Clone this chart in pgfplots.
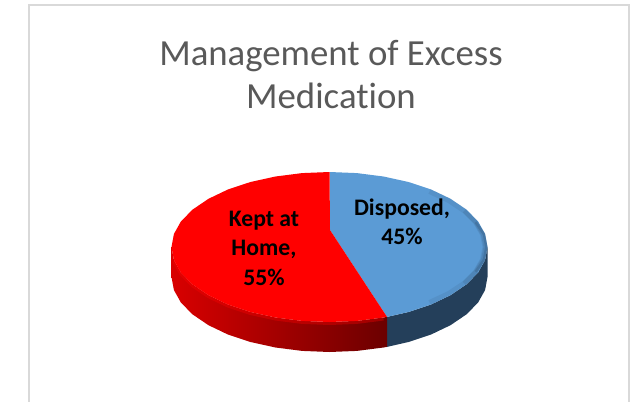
\documentclass[border=0pt]{standalone}
\usepackage{pgfplots}
\pgfplotsset{compat=1.18}
\usepackage{fontspec}
\setmainfont[Ligatures=NoCommon]{Carlito}
\definecolor{piered}{HTML}{FF0000}
\definecolor{pieblue}{HTML}{5B9BD5}
\definecolor{sideblue}{HTML}{243F5A}
\definecolor{frame}{HTML}{D9D9D9}
\definecolor{titlegray}{HTML}{595959}
\begin{document}
\begin{tikzpicture}[x=1pt,y=1pt]
\useasboundingbox (0,0) rectangle (633,402);
\begin{axis}[at={(0,0)},anchor=south west,scale only axis,width=633pt,height=402pt,
  xmin=0,xmax=633,ymin=0,ymax=402,y dir=reverse,hide axis,clip=false]
% frame
\addplot[frame,line width=2pt] coordinates {(29,402)(29,5.3)(629,5.3)(629,402)};
% side faces
\addplot[draw=none,fill=sideblue] coordinates {
(487.5,247)(485.1,260)(478,272.7)(466.3,284.5)(450.5,295.2)(431.1,304.5)(408.5,312)(387,316.9)
(387,346.9)(408.5,342)(431.1,334.5)(450.5,325.2)(466.3,314.5)(478,302.7)(485.1,290)(487.5,277)};
\addplot[draw=none,shade,left color=red!85!black,right color=red!42!black] coordinates {
(387,316.9)(383.5,317.5)(356.9,320.9)(329.5,322)(302.1,320.9)(275.5,317.5)(250.5,312)(227.9,304.5)(208.5,295.2)(192.7,284.5)(181,272.7)(173.9,260)(171.5,247)
(171.5,277)(173.9,290)(181,302.7)(192.7,314.5)(208.5,325.2)(227.9,334.5)(250.5,342)(275.5,347.5)(302.1,350.9)(329.5,352)(356.9,350.9)(383.5,347.5)(387,346.9)};
% top faces
\addplot[draw=none,fill=pieblue] coordinates {
(330,230)(329.5,172)(356.9,173.1)(383.5,176.5)(408.5,182)(431.1,189.5)(450.5,198.8)(466.3,209.5)(478,221.3)(485.1,234)(487.5,247)(485.1,260)(478,272.7)(466.3,284.5)(450.5,295.2)(431.1,304.5)(408.5,312)(387,316.9)};
\addplot[draw=none,fill=piered] coordinates {
(330,230)(387,316.9)(383.5,317.5)(356.9,320.9)(329.5,322)(302.1,320.9)(275.5,317.5)(250.5,312)(227.9,304.5)(208.5,295.2)(192.7,284.5)(181,272.7)(173.9,260)(171.5,247)(173.9,234)(181,221.3)(192.7,209.5)(208.5,198.8)(227.9,189.5)(250.5,182)(275.5,176.5)(302.1,173.1)(329.5,172)};
% rim bevel on the blue face
\addplot[sideblue,line width=5pt,opacity=.10] coordinates {(429.5,191.5)(448.6,200.4)(464.2,210.8)(475.6,222.2)(482.6,234.4)(485,247)(482.6,259.6)(475.6,271.8)(464.2,283.3)(448.6,293.6)(429.5,302.5)};
\addplot[sideblue,line width=4pt,opacity=.14] coordinates {(464.2,210.8)(475.6,222.2)(483,234.4)(485.5,247)(483,259.6)(475.6,271.8)(464.2,283.3)};
\addplot[sideblue,line width=2.5pt,opacity=.22] coordinates {(475.6,222.2)(484,234.4)(486.3,247)(484,259.6)(475.6,271.8)};
% soft light edge on top of the red side
\addplot[red,line width=3pt,opacity=.35] coordinates {(383.5,319)(356.9,322.4)(329.5,323.5)(302.1,322.4)(275.5,319)(250.5,313.5)(227.9,306)(208.5,296.7)(192.7,286)(181,274.2)(173.9,261.5)};
% text
\node[align=center,text=titlegray,font=\fontsize{36.8}{43}\selectfont] at (axis cs:331,75) {Management of Excess\\Medication};
\node[align=center,text=black,font=\fontsize{23.7}{29.5}\selectfont\bfseries] at (axis cs:264,248) {Kept at\\Home,\\55\%};
\node[align=center,text=black,font=\fontsize{23.7}{29.5}\selectfont\bfseries] at (axis cs:402,222) {Disposed,\\45\%};
\end{axis}
\end{tikzpicture}
\end{document}
